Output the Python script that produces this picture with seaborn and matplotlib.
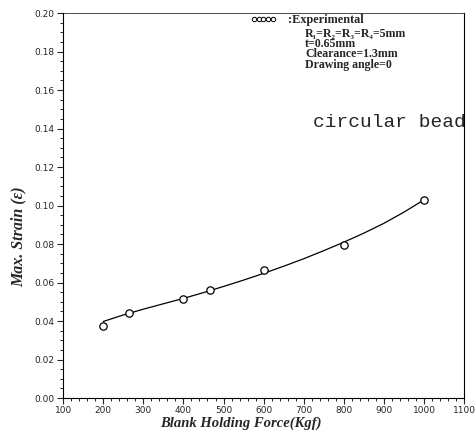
import numpy as np
import pandas as pd
import matplotlib
matplotlib.use("Agg")
import matplotlib.pyplot as plt
from matplotlib.lines import Line2D
from matplotlib.ticker import MultipleLocator
import seaborn as sns

# experimental points
force = [200, 265, 400, 465, 600, 800, 1000]
strain = [0.0375, 0.0440, 0.0515, 0.0563, 0.0663, 0.0797, 0.1030]

# fitted curve
fit_force = [200, 250, 300, 350, 400, 450, 500, 550, 600, 650, 700, 750, 800, 850, 900, 950, 1000]
fit_strain = [0.0398, 0.0432, 0.0462, 0.0490, 0.0518, 0.0548, 0.0580, 0.0613, 0.0648, 0.0685,
              0.0724, 0.0766, 0.0810, 0.0857, 0.0908, 0.0966, 0.1030]

info_lines = ["R\u2081=R\u2082=R\u2083=R\u2084=5mm", "t=0.65mm", "Clearance=1.3mm", "Drawing angle=0"]

sns.set_style("ticks")
plt.rcParams["font.family"] = ["DejaVu Sans"]

fig = plt.figure(figsize=(4.75, 4.37), dpi=100)
ax = fig.add_axes([0.133, 0.089, 0.844, 0.881])

exp_df = pd.DataFrame({"force": force, "strain": strain})
fit_df = pd.DataFrame({"force": fit_force, "strain": fit_strain})

sns.lineplot(data=fit_df, x="force", y="strain", color="black", linewidth=0.9, ax=ax)
sns.scatterplot(data=exp_df, x="force", y="strain", marker="o", s=28,
                facecolor="white", edgecolor="black", linewidth=0.9, zorder=3, ax=ax)

ax.set_xlim(100, 1100)
ax.set_ylim(0, 0.2)
ax.xaxis.set_major_locator(MultipleLocator(100))
ax.xaxis.set_minor_locator(MultipleLocator(20))
ax.yaxis.set_major_locator(MultipleLocator(0.02))
ax.yaxis.set_minor_locator(MultipleLocator(0.005))
ax.tick_params(which="major", length=4, width=0.8, labelsize=6.5, pad=2)
ax.tick_params(which="minor", length=2.5, width=0.7)
ax.yaxis.set_major_formatter(matplotlib.ticker.FormatStrFormatter("%.2f"))
for s in ax.spines.values():
    s.set_linewidth(0.8)
    s.set_color("black")
ax.spines["top"].set_linewidth(0.5)

lab = dict(family=["Liberation Serif", "DejaVu Serif"], fontweight="bold", fontstyle="italic")
ax.set_xlabel("Blank Holding Force(Kgf)", fontsize=10.5, **lab)
ax.set_ylabel("Max. Strain (\u03b5)", fontsize=11.5, **lab)
ax.xaxis.set_label_coords(0.444, -0.047)
ax.yaxis.set_label_coords(-0.092, 0.418)

handle = Line2D([], [], marker="o", linestyle="none", markerfacecolor="white",
                markeredgecolor="black", markersize=3.2, markeredgewidth=0.7)
leg = ax.legend([handle], [":Experimental"], numpoints=5, handlelength=2.1, handletextpad=1.0,
                loc="upper left", bbox_to_anchor=(0.44, 1.025), frameon=False,
                prop=dict(family=["Liberation Serif", "DejaVu Serif"], weight="bold", size=8.8))

ax.text(0.603, 0.906, "\n".join(info_lines), family=["Liberation Serif", "DejaVu Serif"],
        fontweight="bold", fontsize=8.6, linespacing=0.82,
        transform=ax.transAxes, va="center", ha="left")

ax.text(0.622, 0.717, "circular bead", family=["Liberation Mono", "DejaVu Sans Mono"],
        fontsize=14, transform=ax.transAxes, va="center", ha="left")

fig.savefig("out.png", dpi=100)
